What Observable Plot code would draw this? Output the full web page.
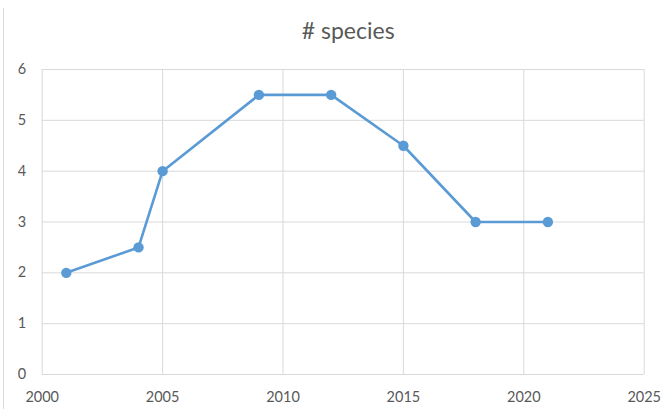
<!DOCTYPE html>
<html>
<head>
<meta charset="utf-8">
<script src="https://cdn.jsdelivr.net/npm/d3@7"></script>
<script src="https://cdn.jsdelivr.net/npm/@observablehq/plot@0.6"></script>
<style>
  html, body { margin: 0; padding: 0; background: #fff; }
  #wrap { position: relative; width: 667px; height: 409px; }
  #edge { position: absolute; left: 3px; top: 8px; width: 1px; height: 401px; background: #d9d9d9; }
</style>
</head>
<body>
<div id="wrap"><div id="edge"></div></div>
<script>
const title = "# species";
const years = [2001, 2004, 2005, 2009, 2012, 2015, 2018, 2021];
const species = [2, 2.5, 4, 5.5, 5.5, 4.5, 3, 3];
const xTicks = [2000, 2005, 2010, 2015, 2020, 2025];
const yTicks = [0, 1, 2, 3, 4, 5, 6];

const data = years.map((y, i) => ({year: y, value: species[i]}));
const font = "Lato, 'Open Sans', sans-serif";
const grey = "#595959";
const grid = "#d9d9d9";
const blue = "#5b9bd5";

const chart = Plot.plot({
  width: 667,
  height: 409,
  marginLeft: 41.7,
  marginRight: 23.3,
  marginTop: 69,
  marginBottom: 35,
  style: {fontFamily: font, fontSize: "14px", color: grey, background: "transparent"},
  x: {domain: [2000, 2025], label: null},
  y: {domain: [0, 6], label: null},
  marks: [
    Plot.gridX(xTicks, {stroke: grid, strokeOpacity: 1, strokeWidth: 1}),
    Plot.gridY(yTicks, {stroke: grid, strokeOpacity: 1, strokeWidth: 1}),
    Plot.axisX({ticks: xTicks, tickFormat: d => String(d), tickSize: 0, tickPadding: 17, fill: grey, fontSize: 14.5, label: null}),
    Plot.axisY({ticks: yTicks, tickFormat: d => String(d), tickSize: 0, tickPadding: 16, fill: grey, fontSize: 14.5, label: null}),
    Plot.line(data, {x: "year", y: "value", stroke: blue, strokeWidth: 2.6}),
    Plot.dot(data, {x: "year", y: "value", fill: blue, r: 5.2, stroke: "none"}),
    Plot.text([title], {frameAnchor: "top", dx: 5, dy: -47, text: d => d, fontSize: 23, fill: grey, fontFamily: font})
  ]
});
document.getElementById("wrap").appendChild(chart);
chart.style.position = "absolute";
chart.style.left = "0";
chart.style.top = "0";
</script>
</body>
</html>
